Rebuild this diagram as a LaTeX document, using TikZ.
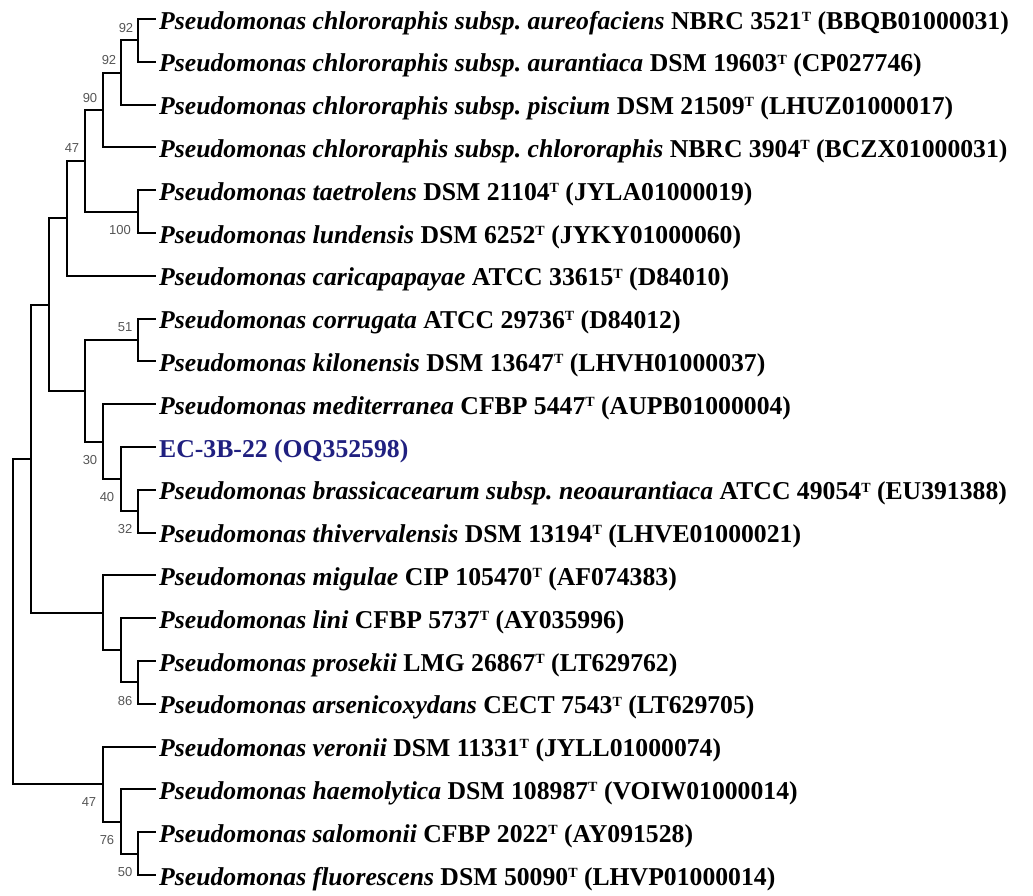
\documentclass[tikz,border=0pt]{standalone}
\usepackage{fontspec}
\setmainfont{Liberation Serif}
\newfontfamily\labfont{Liberation Sans}
\definecolor{ecblue}{RGB}{32,32,128}
\definecolor{bootgray}{RGB}{85,85,85}
\newcommand{\typeT}{\raisebox{0.3em}{\fontsize{14}{14}\selectfont T}}
\begin{document}
\begin{tikzpicture}[x=1pt,y=-1pt,
  branch/.style={line width=2pt, line cap=rect, line join=miter},
  leaf/.style={anchor=base west, inner sep=0pt, font=\fontsize{25.7}{26}\selectfont\bfseries},
  boot/.style={inner sep=0pt, text=bootgray, font=\labfont\fontsize{13}{13}\selectfont}]
\useasboundingbox (0,0) rectangle (1033,895);
% leaf tips
\foreach \i/\y in {1/19,2/61.8,3/104.6,4/147.4,5/190.2,6/233,7/275.8,8/318.6,9/361.4,10/404.2,11/447,12/489.8,13/532.6,14/575.4,15/618.2,16/661,17/703.8,18/746.6,19/789.4,20/832.2,21/875}
  {\coordinate (t\i) at (155,\y);}
% internal nodes
\coordinate (nA) at (138,40.4);
\coordinate (nB) at (121,72.5);
\coordinate (nC) at (103,110);
\coordinate (nE) at (138,211.6);
\coordinate (nD) at (85,160.8);
\coordinate (nF) at (67,218.3);
\coordinate (nI) at (138,340);
\coordinate (nL) at (138,511.2);
\coordinate (nK) at (121,479.1);
\coordinate (nJ) at (103,441.7);
\coordinate (nH) at (85,390.9);
\coordinate (nG) at (49,304.6);
\coordinate (nP) at (138,682.4);
\coordinate (nO) at (121,650.3);
\coordinate (nN) at (103,612.9);
\coordinate (nM) at (31,458.7);
\coordinate (nU) at (138,853.6);
\coordinate (nT) at (121,821.5);
\coordinate (nS) at (103,784.1);
\coordinate (nR) at (13,621.4);
% branches
\draw[branch] (nA) |- (t1) (nA) |- (t2);
\draw[branch] (nB) |- (nA) (nB) |- (t3);
\draw[branch] (nC) |- (nB) (nC) |- (t4);
\draw[branch] (nE) |- (t5) (nE) |- (t6);
\draw[branch] (nD) |- (nC) (nD) |- (nE);
\draw[branch] (nF) |- (nD) (nF) |- (t7);
\draw[branch] (nI) |- (t8) (nI) |- (t9);
\draw[branch] (nL) |- (t12) (nL) |- (t13);
\draw[branch] (nK) |- (t11) (nK) |- (nL);
\draw[branch] (nJ) |- (t10) (nJ) |- (nK);
\draw[branch] (nH) |- (nI) (nH) |- (nJ);
\draw[branch] (nG) |- (nF) (nG) |- (nH);
\draw[branch] (nP) |- (t16) (nP) |- (t17);
\draw[branch] (nO) |- (t15) (nO) |- (nP);
\draw[branch] (nN) |- (t14) (nN) |- (nO);
\draw[branch] (nM) |- (nG) (nM) |- (nN);
\draw[branch] (nU) |- (t20) (nU) |- (t21);
\draw[branch] (nT) |- (t19) (nT) |- (nU);
\draw[branch] (nS) |- (t18) (nS) |- (nT);
\draw[branch] (nR) |- (nM) (nR) |- (nS);
% bootstrap values
\node[boot] (bA) at ([shift={(-12,-12)}]nA) {92};
\node[boot] (bB) at ([shift={(-12,-12.5)}]nB) {92};
\node[boot] (bC) at ([shift={(-13,-12)}]nC) {90};
\node[boot] (bD) at ([shift={(-13,-13)}]nD) {47};
\node[boot] (bE) at ([shift={(-18,18)}]nE) {100};
\node[boot] (bI) at ([shift={(-13,-13)}]nI) {51};
\node[boot] (bJ) at ([shift={(-13,18)}]nJ) {30};
\node[boot] (bK) at ([shift={(-14,18)}]nK) {40};
\node[boot] (bL) at ([shift={(-13,18)}]nL) {32};
\node[boot] (bP) at ([shift={(-13,19)}]nP) {86};
\node[boot] (bS) at ([shift={(-14,18)}]nS) {47};
\node[boot] (bT) at ([shift={(-14,18.5)}]nT) {76};
\node[boot] (bU) at ([shift={(-13,18.4)}]nU) {50};
% leaf labels
\node[leaf] (l1) at ([shift={(4,10)}]t1) {\textit{Pseudomonas chlororaphis subsp.\ aureofaciens} NBRC 3521\typeT{} (BBQB01000031)};
\node[leaf] (l2) at ([shift={(4,10)}]t2) {\textit{Pseudomonas chlororaphis subsp.\ aurantiaca} DSM 19603\typeT{} (CP027746)};
\node[leaf] (l3) at ([shift={(4,10)}]t3) {\textit{Pseudomonas chlororaphis subsp.\ piscium} DSM 21509\typeT{} (LHUZ01000017)};
\node[leaf] (l4) at ([shift={(4,10)}]t4) {\textit{Pseudomonas chlororaphis subsp.\ chlororaphis} NBRC 3904\typeT{} (BCZX01000031)};
\node[leaf] (l5) at ([shift={(4,10)}]t5) {\textit{Pseudomonas taetrolens} DSM 21104\typeT{} (JYLA01000019)};
\node[leaf] (l6) at ([shift={(4,10)}]t6) {\textit{Pseudomonas lundensis} DSM 6252\typeT{} (JYKY01000060)};
\node[leaf] (l7) at ([shift={(4,10)}]t7) {\textit{Pseudomonas caricapapayae} ATCC 33615\typeT{} (D84010)};
\node[leaf] (l8) at ([shift={(4,10)}]t8) {\textit{Pseudomonas corrugata} ATCC 29736\typeT{} (D84012)};
\node[leaf] (l9) at ([shift={(4,10)}]t9) {\textit{Pseudomonas kilonensis} DSM 13647\typeT{} (LHVH01000037)};
\node[leaf] (l10) at ([shift={(4,10)}]t10) {\textit{Pseudomonas mediterranea} CFBP 5447\typeT{} (AUPB01000004)};
\node[leaf, text=ecblue] (l11) at ([shift={(4,10)}]t11) {EC-3B-22 (OQ352598)};
\node[leaf] (l12) at ([shift={(4,10)}]t12) {\textit{Pseudomonas brassicacearum subsp.\ neoaurantiaca} ATCC 49054\typeT{} (EU391388)};
\node[leaf] (l13) at ([shift={(4,10)}]t13) {\textit{Pseudomonas thivervalensis} DSM 13194\typeT{} (LHVE01000021)};
\node[leaf] (l14) at ([shift={(4,10)}]t14) {\textit{Pseudomonas migulae} CIP 105470\typeT{} (AF074383)};
\node[leaf] (l15) at ([shift={(4,10)}]t15) {\textit{Pseudomonas lini} CFBP 5737\typeT{} (AY035996)};
\node[leaf] (l16) at ([shift={(4,10)}]t16) {\textit{Pseudomonas prosekii} LMG 26867\typeT{} (LT629762)};
\node[leaf] (l17) at ([shift={(4,10)}]t17) {\textit{Pseudomonas arsenicoxydans} CECT 7543\typeT{} (LT629705)};
\node[leaf] (l18) at ([shift={(4,10)}]t18) {\textit{Pseudomonas veronii} DSM 11331\typeT{} (JYLL01000074)};
\node[leaf] (l19) at ([shift={(4,10)}]t19) {\textit{Pseudomonas haemolytica} DSM 108987\typeT{} (VOIW01000014)};
\node[leaf] (l20) at ([shift={(4,10)}]t20) {\textit{Pseudomonas salomonii} CFBP 2022\typeT{} (AY091528)};
\node[leaf] (l21) at ([shift={(4,10)}]t21) {\textit{Pseudomonas fluorescens} DSM 50090\typeT{} (LHVP01000014)};
\end{tikzpicture}
\end{document}
